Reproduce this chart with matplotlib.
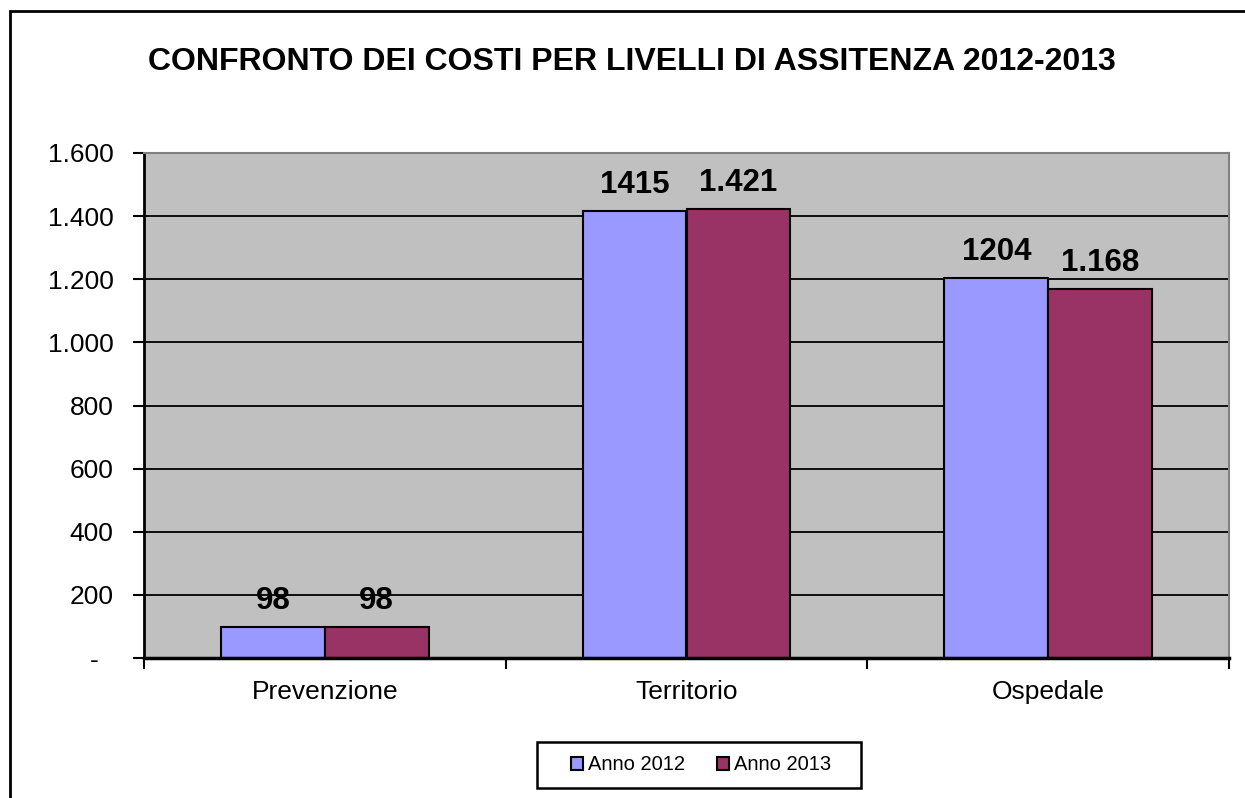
import matplotlib
matplotlib.use("Agg")
import matplotlib.pyplot as plt
import numpy as np
from matplotlib.patches import Rectangle

plt.rcParams['font.family'] = ['Liberation Sans', 'DejaVu Sans']

title = "CONFRONTO DEI COSTI PER LIVELLI DI ASSITENZA 2012-2013"
categories = ["Prevenzione", "Territorio", "Ospedale"]
series_names = ["Anno 2012", "Anno 2013"]
values_2012 = [98, 1415, 1204]
values_2013 = [98, 1421, 1168]
labels_2012 = ["98", "1415", "1204"]
labels_2013 = ["98", "1.421", "1.168"]
yticks = [0, 200, 400, 600, 800, 1000, 1200, 1400, 1600]
ytick_labels = ["-  ", "200", "400", "600", "800", "1.000", "1.200", "1.400", "1.600"]

colors = ["#9999FF", "#993366"]

W, H = 1245, 798
fig = plt.figure(figsize=(W/100, H/100), dpi=100)
ax = fig.add_axes([144/W, 1-658/H, (1229-144)/W, (658-153)/H])
ax.set_facecolor("#C0C0C0")

x = np.arange(len(categories))
w = 0.287
ax.set_axisbelow(True)
ax.yaxis.grid(True, color="black", linewidth=1.3)
b1 = ax.bar(x - w/2, values_2012, width=w, color=colors[0], edgecolor="black", linewidth=1.5, label=series_names[0])
b2 = ax.bar(x + w/2, values_2013, width=w, color=colors[1], edgecolor="black", linewidth=1.5, label=series_names[1])

for bars, labs in ((b1, labels_2012), (b2, labels_2013)):
    for rect, lab in zip(bars, labs):
        ax.annotate(lab, (rect.get_x() + rect.get_width()/2, rect.get_height()),
                    xytext=(0, 13), textcoords="offset points", ha="center", va="baseline",
                    fontsize=22.5, fontweight="bold", color="black")

ax.set_xlim(-0.5, 2.5)
ax.set_ylim(0, 1600)
ax.set_yticks(yticks)
ax.set_yticklabels(ytick_labels, fontsize=19)
ax.set_xticks(x)
ax.set_xticklabels(categories, fontsize=19)
ax.set_xticks([-0.5, 0.5, 1.5, 2.5], minor=True)
ax.tick_params(axis="x", which="major", length=0, pad=15.5)
ax.tick_params(axis="x", which="minor", length=8, width=1.5, direction="out")
ax.tick_params(axis="y", which="major", length=8, width=1.5, pad=14)

for s in ("top", "right"):
    ax.spines[s].set_color("#808080")
    ax.spines[s].set_linewidth(1.5)
ax.spines["left"].set_linewidth(2)
ax.spines["bottom"].set_linewidth(2.5)

fig.text(632/W, 1-62/H, title, ha="center", va="center", fontsize=23, fontweight="bold")

# legend box
fig.patches.append(Rectangle((537/W, 1-788/H), (861-537)/W, (788-742)/H,
                             transform=fig.transFigure, fill=True, facecolor="white",
                             edgecolor="black", linewidth=1.8, zorder=1))
leg = fig.legend(handles=[b1, b2], labels=series_names, loc="center",
                 bbox_to_anchor=(701/W, 1-765/H), ncol=2, fontsize=14.5,
                 frameon=False,
                 handlelength=0.6, handleheight=0.6, handletextpad=0.25,
                 columnspacing=1.6, borderpad=0.3)
leg.set_zorder(3)

fig.patches.append(Rectangle((10/W, -0.1), 1.2, (H-11)/H + 0.1,
                             transform=fig.transFigure, fill=False,
                             edgecolor="black", linewidth=2))

fig.savefig("out.png", dpi=100)
